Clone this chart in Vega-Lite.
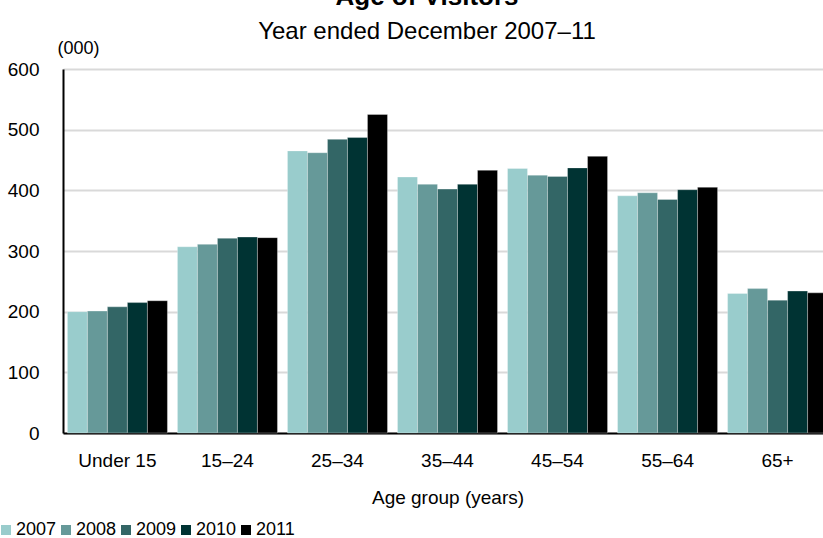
{
  "$schema": "https://vega.github.io/schema/vega-lite/v6.json",
  "width": 760,
  "height": 364,
  "autosize": {"type": "none"},
  "padding": {"left": 63, "top": 69, "right": 0, "bottom": 105},
  "background": "white",
  "title": {
    "text": "Age of Visitors",
    "subtitle": "Year ended December 2007–11",
    "anchor": "middle",
    "frame": "group",
    "dx": -16,
    "font": "Liberation Sans",
    "fontSize": 26,
    "fontWeight": "bold",
    "color": "black",
    "subtitleFont": "Liberation Sans",
    "subtitleFontSize": 24,
    "subtitleColor": "black",
    "subtitlePadding": 10,
    "offset": -5
  },
  "data": {
    "values": [
      {"age": "Under 15", "year": "2007", "visitors": 200},
      {"age": "Under 15", "year": "2008", "visitors": 201},
      {"age": "Under 15", "year": "2009", "visitors": 208},
      {"age": "Under 15", "year": "2010", "visitors": 215},
      {"age": "Under 15", "year": "2011", "visitors": 218},
      {"age": "15–24", "year": "2007", "visitors": 307},
      {"age": "15–24", "year": "2008", "visitors": 311},
      {"age": "15–24", "year": "2009", "visitors": 321},
      {"age": "15–24", "year": "2010", "visitors": 323},
      {"age": "15–24", "year": "2011", "visitors": 322},
      {"age": "25–34", "year": "2007", "visitors": 465},
      {"age": "25–34", "year": "2008", "visitors": 462},
      {"age": "25–34", "year": "2009", "visitors": 484},
      {"age": "25–34", "year": "2010", "visitors": 487},
      {"age": "25–34", "year": "2011", "visitors": 525},
      {"age": "35–44", "year": "2007", "visitors": 422},
      {"age": "35–44", "year": "2008", "visitors": 410},
      {"age": "35–44", "year": "2009", "visitors": 402},
      {"age": "35–44", "year": "2010", "visitors": 410},
      {"age": "35–44", "year": "2011", "visitors": 433},
      {"age": "45–54", "year": "2007", "visitors": 436},
      {"age": "45–54", "year": "2008", "visitors": 425},
      {"age": "45–54", "year": "2009", "visitors": 423},
      {"age": "45–54", "year": "2010", "visitors": 437},
      {"age": "45–54", "year": "2011", "visitors": 456},
      {"age": "55–64", "year": "2007", "visitors": 391},
      {"age": "55–64", "year": "2008", "visitors": 396},
      {"age": "55–64", "year": "2009", "visitors": 385},
      {"age": "55–64", "year": "2010", "visitors": 401},
      {"age": "55–64", "year": "2011", "visitors": 405},
      {"age": "65+", "year": "2007", "visitors": 230},
      {"age": "65+", "year": "2008", "visitors": 238},
      {"age": "65+", "year": "2009", "visitors": 219},
      {"age": "65+", "year": "2010", "visitors": 234},
      {"age": "65+", "year": "2011", "visitors": 231}
    ]
  },
  "mark": {"type": "bar", "stroke": "white", "strokeWidth": 0.6, "strokeOpacity": 0.5},
  "encoding": {
    "x": {
      "field": "age",
      "type": "nominal",
      "sort": ["Under 15", "15–24", "25–34", "35–44", "45–54", "55–64", "65+"],
      "scale": {"paddingInner": 0.0909, "paddingOuter": 0.04, "range": [0, 769]},
      "axis": {
        "title": "Age group (years)",
        "labelAngle": 0,
        "labelFont": "Liberation Sans",
        "labelFontSize": 19,
        "labelColor": "black",
        "labelPadding": 18,
        "ticks": false,
        "domainColor": "black",
        "domainWidth": 2,
        "titleFont": "Liberation Sans",
        "titleFontSize": 19,
        "titleFontWeight": "normal",
        "titleColor": "black",
        "titlePadding": 18
      }
    },
    "xOffset": {
      "field": "year",
      "type": "nominal",
      "scale": {"paddingInner": 0, "paddingOuter": 0}
    },
    "y": {
      "field": "visitors",
      "type": "quantitative",
      "scale": {"domain": [0, 600]},
      "axis": {
        "title": "(000)",
        "titleAngle": 0,
        "titleAlign": "left",
        "titleBaseline": "bottom",
        "titleX": -6,
        "titleY": -12,
        "titleFont": "Liberation Sans",
        "titleFontSize": 18,
        "titleFontWeight": "normal",
        "titleColor": "black",
        "values": [0, 100, 200, 300, 400, 500, 600],
        "labelFont": "Liberation Sans",
        "labelFontSize": 19,
        "labelColor": "black",
        "labelPadding": 24,
        "ticks": false,
        "domainColor": "black",
        "domainWidth": 2,
        "gridColor": "#d9d9d9",
        "gridWidth": 2
      }
    },
    "color": {
      "field": "year",
      "type": "nominal",
      "scale": {
        "domain": ["2007", "2008", "2009", "2010", "2011"],
        "range": ["#99cccc", "#669999", "#336666", "#003333", "#000000"]
      },
      "legend": {
        "title": null,
        "orient": "none",
        "direction": "horizontal",
        "legendX": -66,
        "legendY": 452,
        "symbolType": "square",
        "symbolSize": 100,
        "symbolStrokeWidth": 0,
        "labelFont": "Liberation Sans",
        "labelFontSize": 18,
        "labelColor": "black",
        "labelOffset": 1,
        "columnPadding": 0
      }
    }
  },
  "config": {"view": {"stroke": null}}
}
